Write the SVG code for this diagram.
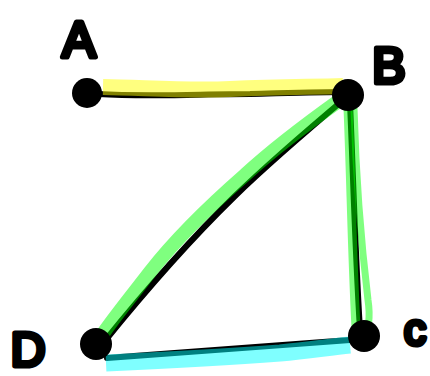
<svg xmlns="http://www.w3.org/2000/svg" width="430" height="376" viewBox="0 0 430 376">
<style>
.ink{fill:none;stroke:#000;stroke-width:6;stroke-linecap:round;stroke-linejoin:round}
.hl{fill:none;stroke-linecap:butt;stroke-linejoin:round;opacity:0.5}
.dot{fill:#000}
.lbl{font-family:"Liberation Sans",Arial,sans-serif;font-weight:normal;fill:#000;stroke:#000;stroke-width:5;stroke-linejoin:round;stroke-linecap:round;text-anchor:middle}
</style>
<rect width="430" height="376" fill="#fff"/>
<g id="connectors">
<g id="edge-AB">
<path class="ink" d="M98,94 C150,97 200,94 250,94 C290,93 320,92 346,92"/>
<path class="hl" stroke="#ffff00" stroke-width="16" d="M103,87 C150,88 190,91 230,89 C280,87 310,87 343,86"/>
</g>
<g id="edge-BD">
<path class="ink" d="M348,96 C310,128 270,162 235,196 C195,235 150,285 104,342"/>
<path class="hl" stroke="#00ff00" stroke-width="14" d="M340,100 C305,125 270,152 245,175 C205,210 175,240 150,272 C130,298 112,320 100,338"/>
</g>
<g id="edge-BC">
<path class="ink" d="M350,103 C353,170 355,250 360,330"/>
<path class="hl" stroke="#00ff00" stroke-width="9" d="M348,108 C351,180 352,250 356,328"/>
<path class="hl" stroke="#00ff00" stroke-width="7" d="M354,108 C356,180 362,250 368,300 C371,320 367,330 367,330"/>
</g>
<g id="edge-DC">
<path class="ink" d="M107,358 C170,353 250,347 350,340"/>
<path class="hl" stroke="#00ffff" stroke-width="17" d="M106,363 C170,360 240,356 280,353 C310,350 330,347 350,345"/>
</g>
</g>
<g id="node-A"><circle class="dot" cx="87" cy="93" r="15"/><text class="lbl" x="79" y="57" font-size="50">A</text></g>
<g id="node-B"><circle class="dot" cx="348" cy="95" r="16"/><text class="lbl" x="389" y="83" font-size="50">B</text></g>
<g id="node-C"><circle class="dot" cx="364" cy="336" r="16"/><text class="lbl" x="415" y="345" font-size="44">c</text></g>
<g id="node-D"><circle class="dot" cx="96" cy="344" r="16"/><text class="lbl" x="28" y="366" font-size="48">D</text></g>
</svg>
